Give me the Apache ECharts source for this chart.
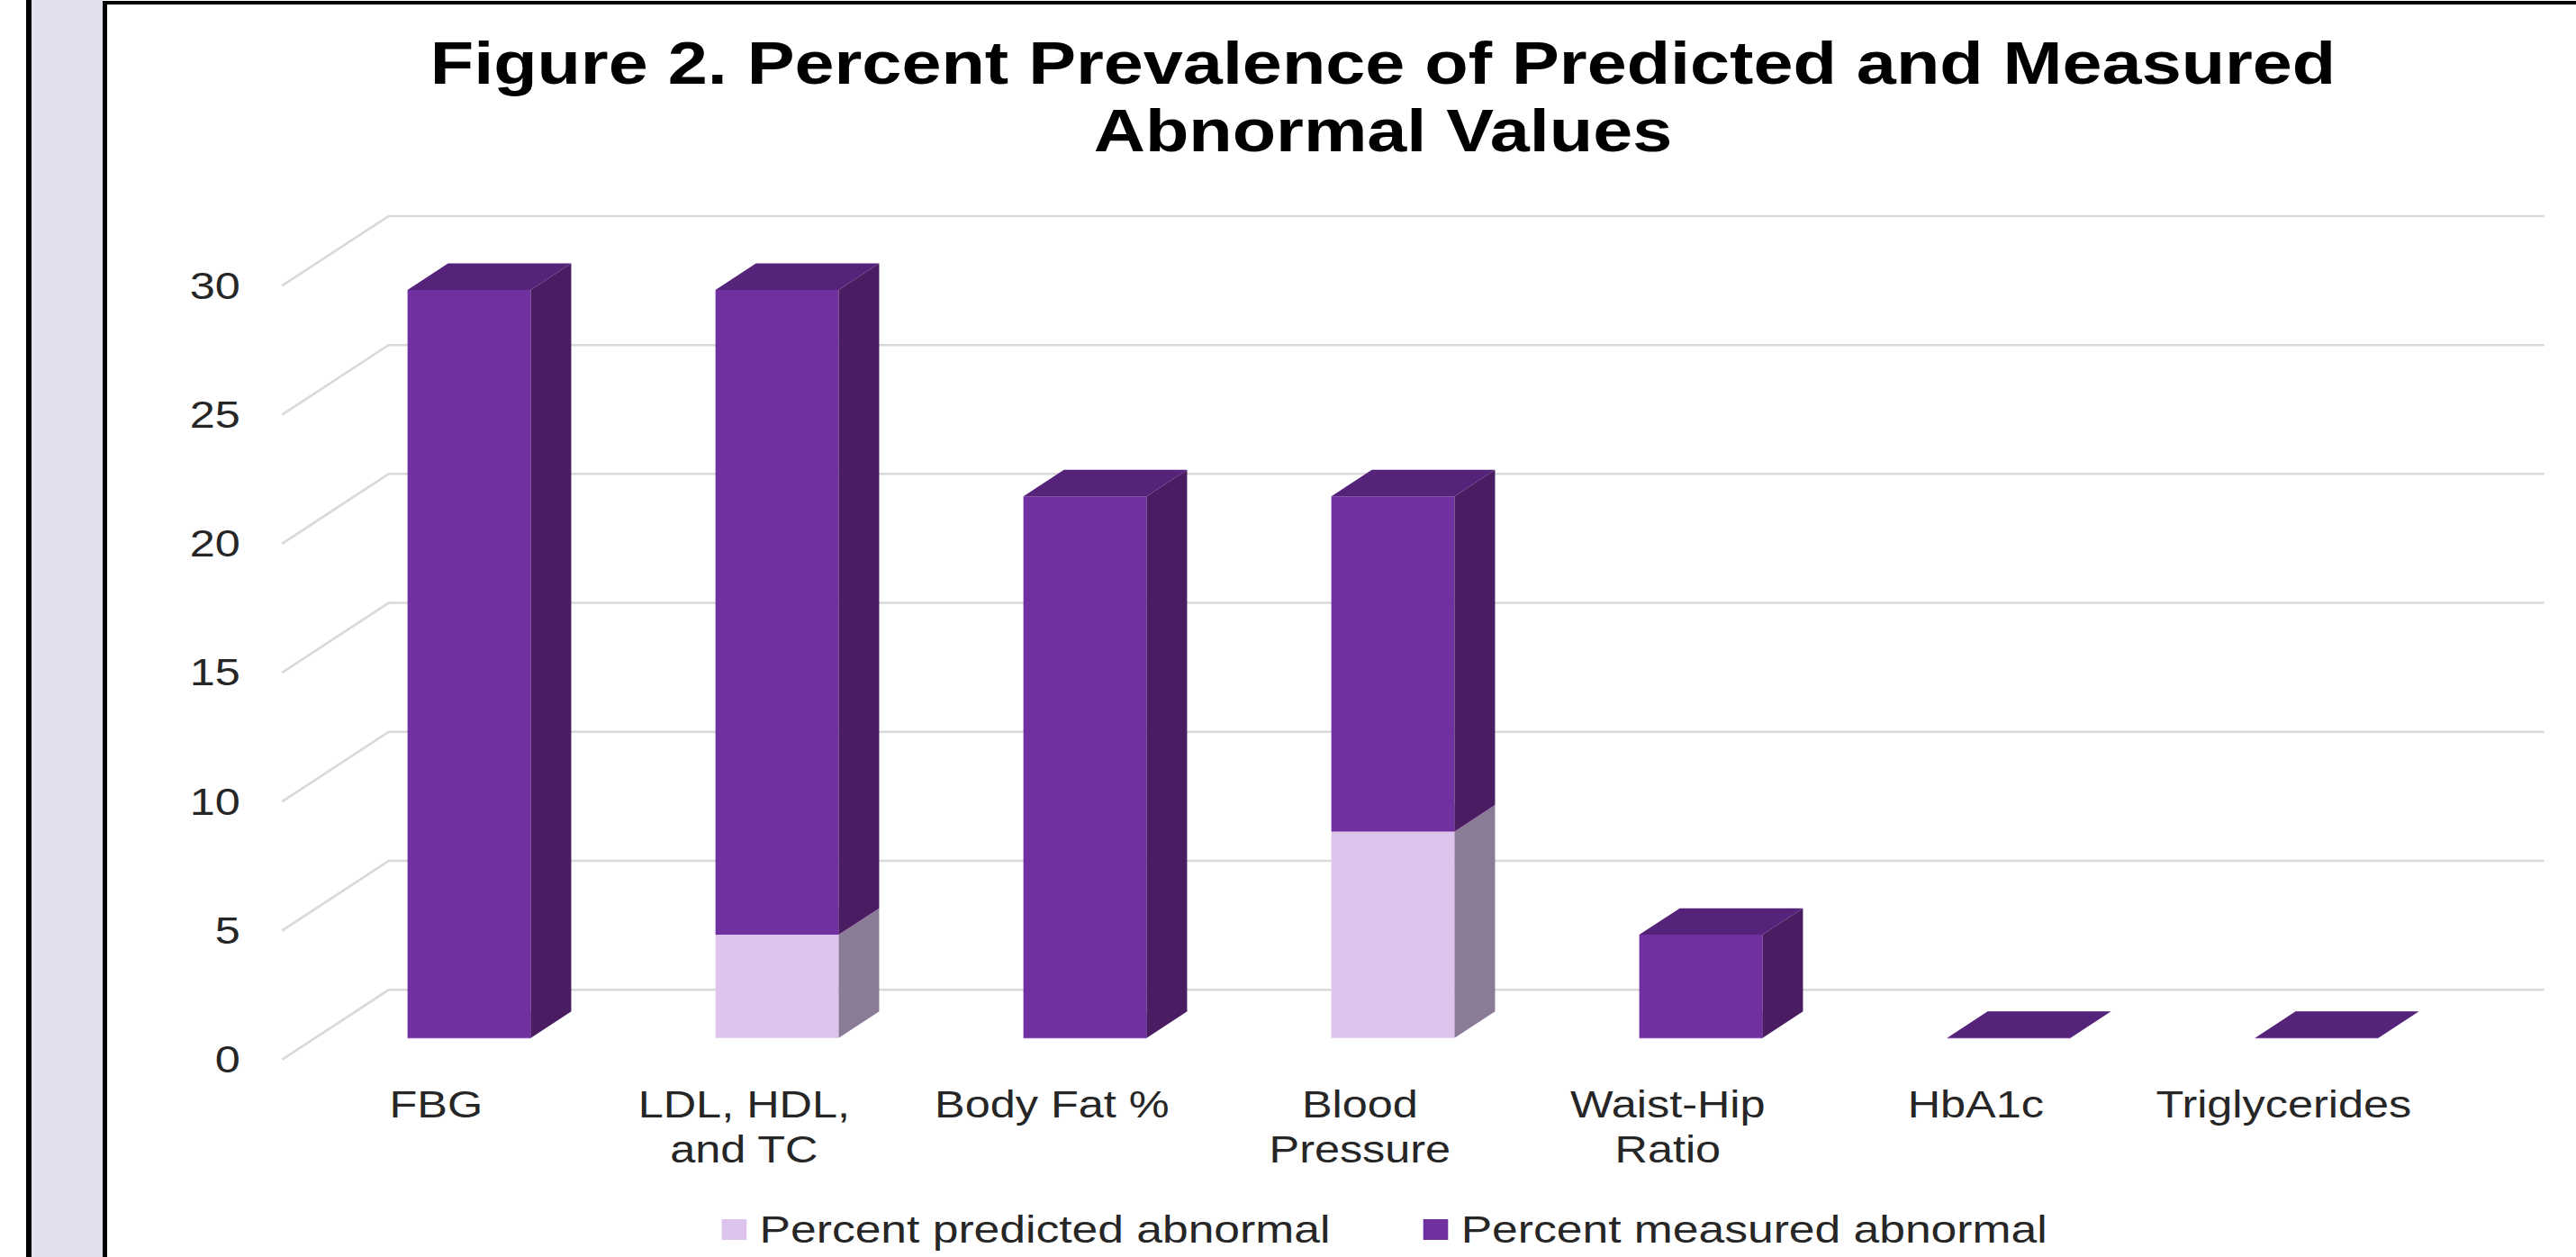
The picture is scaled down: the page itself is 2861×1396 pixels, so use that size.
<!DOCTYPE html>
<html>
<head>
<meta charset="utf-8">
<script src="https://cdn.jsdelivr.net/npm/echarts@6/dist/echarts.min.js"></script>
<style>
  html, body { margin: 0; padding: 0; width: 2861px; height: 1396px; overflow: hidden; background: #fff; }
  #rail { position: absolute; left: 29px; top: 0; width: 6px; height: 1396px; background: #000; }
  #panel { position: absolute; left: 35px; top: 0; width: 79px; height: 1396px; background: #e4dfec; }
  #frame { position: absolute; left: 114px; top: 1px; width: 2747px; height: 1395px;
           border-left: 5px solid #000; border-top: 4px solid #000; box-sizing: border-box; background: #fff; }
  #chart { position: absolute; left: 0; top: 0; width: 2384px; height: 1396px;
           transform: scaleX(1.2); transform-origin: 0 0; }
</style>
</head>
<body>
<div id="rail"></div>
<div id="panel"></div>
<div id="frame"></div>
<div id="chart"></div>
<script>
// Categories and values (percent of participants)
const categories = ['FBG', 'LDL, HDL,\nand TC', 'Body Fat %', 'Blood\nPressure', 'Waist-Hip\nRatio', 'HbA1c', 'Triglycerides'];
const predicted = [0, 4, 0, 8, 0, 0, 0];
const measured = [29, 25, 21, 13, 4, 0, 0];
const yTicks = [0, 5, 10, 15, 20, 25, 30];

// Oblique 3D projection: full floor depth vector, and where the columns sit in it
const DEPTH_X = 98.7, DEPTH_Y = -77.4;
const FRONT_AT = 0.31, COL_DEPTH = 0.38;
const COL_SHARE = 0.4;
const FONT = '"Liberation Sans", Arial, sans-serif';
const TEXT = '#262626';

const shades = {
  predicted: { front: '#dcc4ec', side: '#8a7b97', top: '#c9b1da' },
  measured:  { front: '#7030a0', side: '#4a1d63', top: '#56237a' }
};

function columnRenderer(shade, edgeWhenEmpty) {
  return function (params, api) {
    const cat = api.value(0), base = api.value(1), top = api.value(2);
    const pb = api.coord([cat, base]);
    const pt = api.coord([cat, top]);
    const band = api.size([1, 0])[0];
    const w = band * COL_SHARE;
    const ox = DEPTH_X * FRONT_AT, oy = DEPTH_Y * FRONT_AT;
    const dx = DEPTH_X * COL_DEPTH, dy = DEPTH_Y * COL_DEPTH;
    const xl = pb[0] - w / 2 + ox, xr = xl + w;
    const yb = pb[1] + oy, yt = pt[1] + oy;
    const children = [];
    if (yb - yt > 0.5) {
      children.push({ type: 'rect', shape: { x: xl, y: yt, width: w, height: yb - yt },
        style: { fill: shade.front } });
      children.push({ type: 'polygon', shape: { points: [[xr, yb], [xr + dx, yb + dy], [xr + dx, yt + dy], [xr, yt]] },
        style: { fill: shade.side } });
    } else if (edgeWhenEmpty) {
      // an empty segment still shows as a hairline along the front edge
      children.push({ type: 'line', shape: { x1: xl, y1: yb, x2: xr, y2: yb },
        style: { stroke: shade.front, lineWidth: 2 } });
    }
    children.push({ type: 'polygon', shape: { points: [[xl, yt], [xr, yt], [xr + dx, yt + dy], [xl + dx, yt + dy]] },
      style: { fill: shade.top } });
    return { type: 'group', children: children };
  };
}

function gridRenderer(params, api) {
  const y = api.coord([0, api.value(1)])[1];
  const cs = params.coordSys;
  const x0 = cs.x, x1 = cs.x + cs.width;
  return {
    type: 'polyline',
    shape: { points: [[x0, y], [x0 + DEPTH_X, y + DEPTH_Y], [x1 + DEPTH_X, y + DEPTH_Y]] },
    style: { stroke: '#d9d9d9', lineWidth: 2.5, fill: null }
  };
}

const predictedData = categories.map((c, i) => [i, 0, predicted[i]]);
const measuredData = categories.map((c, i) => [i, predicted[i], predicted[i] + measured[i]]);

const chart = echarts.init(document.getElementById('chart'), null, { renderer: 'svg' });
chart.setOption({
  animation: false,
  title: {
    text: 'Figure 2. Percent Prevalence of Predicted and Measured\nAbnormal Values',
    left: 1275, top: 27, textAlign: 'center',
    textStyle: { fontFamily: FONT, fontWeight: 'bold', fontSize: 66, lineHeight: 75, color: '#000' }
  },
  legend: {
    data: ['Percent predicted abnormal', 'Percent measured abnormal'],
    left: 668, top: 1344, padding: 0,
    icon: 'rect', itemWidth: 23, itemHeight: 23, itemGap: 86,
    textStyle: { fontFamily: FONT, fontSize: 43, color: TEXT, lineHeight: 42, padding: [0, 0, 0, 7] }
  },
  grid: { left: 261.1, right: 127.9, top: 317.3, bottom: 219.3, containLabel: false },
  xAxis: {
    type: 'category', data: categories,
    axisLine: { show: false }, axisTick: { show: false }, splitLine: { show: false },
    axisLabel: { interval: 0, margin: 25, fontFamily: FONT, fontSize: 42, lineHeight: 50, color: TEXT }
  },
  yAxis: {
    type: 'value', min: 0, max: 30, interval: 5,
    axisLine: { show: false }, axisTick: { show: false }, splitLine: { show: false },
    axisLabel: { margin: 38.8, fontFamily: FONT, fontSize: 42, color: TEXT }
  },
  series: [
    { type: 'custom', name: 'gridlines', silent: true, z: 1,
      data: yTicks.map(v => [0, v]), renderItem: gridRenderer, encode: { x: 0, y: 1 } },
    { type: 'custom', name: 'Percent predicted abnormal', z: 2,
      itemStyle: { color: shades.predicted.front },
      data: predictedData, renderItem: columnRenderer(shades.predicted, true), encode: { x: 0, y: [1, 2] } },
    { type: 'custom', name: 'Percent measured abnormal', z: 3,
      itemStyle: { color: shades.measured.front },
      data: measuredData, renderItem: columnRenderer(shades.measured, false), encode: { x: 0, y: [1, 2] } }
  ]
});
</script>
</body>
</html>
